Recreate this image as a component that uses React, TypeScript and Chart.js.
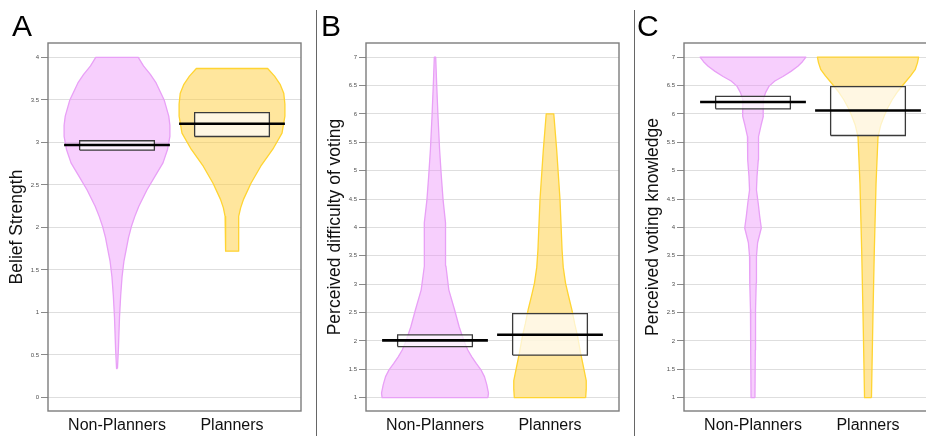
import React, { useEffect, useRef } from 'react';
import { Chart, registerables } from 'chart.js';

Chart.register(...registerables);

const FONT = "'Liberation Sans', Arial, Helvetica, sans-serif";

const categories = ['Non-Planners', 'Planners'];

// Panel A: Belief Strength
const beliefTicks = [0, 0.5, 1, 1.5, 2, 2.5, 3, 3.5, 4];
const beliefNonLevels = [0.34, 0.56, 0.95, 1.2, 1.42, 1.6, 1.74, 1.88, 2.01, 2.13, 2.25, 2.44, 2.6, 2.76, 2.92, 3.07, 3.2, 3.31, 3.5, 3.7, 3.8, 3.9, 4.0];
const beliefNonWidths = [0.004, 0.012, 0.022, 0.032, 0.044, 0.06, 0.08, 0.1, 0.125, 0.155, 0.19, 0.26, 0.33, 0.4, 0.44, 0.46, 0.46, 0.45, 0.41, 0.34, 0.29, 0.23, 0.185];
const beliefPlanLevels = [1.72, 2.0, 2.13, 2.23, 2.33, 2.52, 2.72, 2.92, 3.11, 3.31, 3.45, 3.58, 3.68, 3.78, 3.87];
const beliefPlanWidths = [0.055, 0.056, 0.06, 0.075, 0.1, 0.165, 0.25, 0.355, 0.435, 0.46, 0.46, 0.45, 0.42, 0.37, 0.31];
const beliefCiLow = [2.91, 3.07];
const beliefCiHigh = [3.02, 3.35];
const beliefMeans = [2.97, 3.22];

// Panel B: Perceived difficulty of voting
const scaleTicks = [1, 1.5, 2, 2.5, 3, 3.5, 4, 4.5, 5, 5.5, 6, 6.5, 7];
const diffNonLevels = [1.0, 1.08, 1.23, 1.37, 1.49, 1.6, 1.72, 1.84, 1.96, 2.1, 2.25, 2.4, 2.55, 2.9, 3.32, 3.73, 4.08, 4.49, 4.9, 5.37, 5.96, 6.55, 7.0];
const diffNonWidths = [0.46, 0.465, 0.45, 0.43, 0.4, 0.36, 0.32, 0.285, 0.26, 0.235, 0.21, 0.19, 0.17, 0.12, 0.095, 0.09, 0.093, 0.07, 0.055, 0.04, 0.026, 0.014, 0.006];
const diffPlanLevels = [1.0, 1.15, 1.3, 1.55, 1.8, 2.08, 2.3, 2.55, 2.8, 3.02, 3.3, 3.6, 4.49, 5.37, 6.0];
const diffPlanWidths = [0.31, 0.315, 0.315, 0.29, 0.265, 0.24, 0.215, 0.19, 0.16, 0.135, 0.115, 0.105, 0.087, 0.058, 0.033];
const diffCiLow = [1.9, 1.75];
const diffCiHigh = [2.105, 2.48];
const diffMeans = [2.01, 2.11];

// Panel C: Perceived voting knowledge
const knowNonLevels = [1.0, 1.84, 2.55, 3.02, 3.49, 3.73, 3.99, 4.2, 4.43, 4.66, 4.9, 5.19, 5.6, 5.8, 5.96, 6.1, 6.25, 6.38, 6.49, 6.58, 6.66, 6.75, 6.84, 6.92, 7.0];
const knowNonWidths = [0.017, 0.02, 0.022, 0.028, 0.03, 0.04, 0.072, 0.058, 0.045, 0.03, 0.035, 0.046, 0.048, 0.07, 0.09, 0.09, 0.087, 0.11, 0.14, 0.19, 0.26, 0.33, 0.39, 0.43, 0.46];
const knowPlanLevels = [1.0, 2.43, 3.6, 4.78, 5.6, 5.8, 5.96, 6.1, 6.25, 6.4, 6.55, 6.67, 6.78, 6.9, 7.0];
const knowPlanWidths = [0.03, 0.043, 0.055, 0.07, 0.087, 0.11, 0.14, 0.17, 0.21, 0.26, 0.32, 0.37, 0.41, 0.43, 0.44];
const knowCiLow = [6.09, 5.62];
const knowCiHigh = [6.31, 6.48];
const knowMeans = [6.21, 6.06];

const PINK_FILL = 'rgba(236, 140, 250, 0.42)';
const PINK_LINE = 'rgba(232, 160, 246, 1)';
const GOLD_FILL = 'rgba(255, 205, 60, 0.5)';
const GOLD_LINE = 'rgba(255, 212, 50, 1)';

type PanelSpec = {
  title: string;
  ticks: number[];
  min: number;
  max: number;
  levels: number[][];
  widths: number[][];
  ciLow: number[];
  ciHigh: number[];
  means: number[];
};

const panels: PanelSpec[] = [
  {
    title: 'Belief Strength',
    ticks: beliefTicks,
    min: -0.16,
    max: 4.17,
    levels: [beliefNonLevels, beliefPlanLevels],
    widths: [beliefNonWidths, beliefPlanWidths],
    ciLow: beliefCiLow,
    ciHigh: beliefCiHigh,
    means: beliefMeans,
  },
  {
    title: 'Perceived difficulty of voting',
    ticks: scaleTicks,
    min: 0.765,
    max: 7.25,
    levels: [diffNonLevels, diffPlanLevels],
    widths: [diffNonWidths, diffPlanWidths],
    ciLow: diffCiLow,
    ciHigh: diffCiHigh,
    means: diffMeans,
  },
  {
    title: 'Perceived voting knowledge',
    ticks: scaleTicks,
    min: 0.765,
    max: 7.25,
    levels: [knowNonLevels, knowPlanLevels],
    widths: [knowNonWidths, knowPlanWidths],
    ciLow: knowCiLow,
    ciHigh: knowCiHigh,
    means: knowMeans,
  },
];

const BOX_HALF = 0.325;
const MEAN_HALF = 0.46;

function violinPoints(center: number, levels: number[], widths: number[]) {
  const pts: { x: number; y: number }[] = [];
  for (let i = 0; i < levels.length; i++) pts.push({ x: center + widths[i], y: levels[i] });
  for (let i = levels.length - 1; i >= 0; i--) pts.push({ x: center - widths[i], y: levels[i] });
  pts.push({ x: center + widths[0], y: levels[0] });
  return pts;
}

const framePlugin = {
  id: 'panelFrame',
  afterDatasetsDraw(chart: any) {
    const { ctx, chartArea: a } = chart;
    ctx.save();
    ctx.strokeStyle = '#7d7d7d';
    ctx.lineWidth = 1.4;
    ctx.strokeRect(a.left, a.top, a.right - a.left, a.bottom - a.top);
    ctx.restore();
  },
};

function Panel({ spec, left }: { spec: PanelSpec; left: number }) {
  const ref = useRef<HTMLCanvasElement | null>(null);
  useEffect(() => {
    if (!ref.current) return;
    const datasets: any[] = [];
    categories.forEach((_, i) => {
      const c = i + 1;
      datasets.push({
        label: categories[i] + ' violin',
        data: violinPoints(c, spec.levels[i], spec.widths[i]),
        fill: 'shape',
        backgroundColor: i === 0 ? PINK_FILL : GOLD_FILL,
        borderColor: i === 0 ? PINK_LINE : GOLD_LINE,
        borderWidth: 1.3,
        borderJoinStyle: 'round',
        pointRadius: 0,
        tension: 0,
        order: 3,
      });
      datasets.push({
        label: categories[i] + ' CI',
        data: [
          { x: c - BOX_HALF, y: spec.ciLow[i] },
          { x: c + BOX_HALF, y: spec.ciLow[i] },
          { x: c + BOX_HALF, y: spec.ciHigh[i] },
          { x: c - BOX_HALF, y: spec.ciHigh[i] },
          { x: c - BOX_HALF, y: spec.ciLow[i] },
        ],
        fill: 'shape',
        backgroundColor: 'rgba(255,255,255,0.72)',
        borderColor: '#3a3a3a',
        borderWidth: 1.3,
        pointRadius: 0,
        tension: 0,
        order: 2,
      });
      datasets.push({
        label: categories[i] + ' mean',
        data: [
          { x: c - MEAN_HALF, y: spec.means[i] },
          { x: c + MEAN_HALF, y: spec.means[i] },
        ],
        fill: false,
        borderColor: '#000',
        borderWidth: 2.6,
        pointRadius: 0,
        tension: 0,
        order: 1,
      });
    });

    const chart = new Chart(ref.current, {
      type: 'line',
      data: { datasets },
      plugins: [framePlugin],
      options: {
        responsive: false,
        animation: false,
        devicePixelRatio: 1,
        layout: { padding: { left: 0, right: 16, top: 43, bottom: 0 } },
        plugins: { legend: { display: false }, tooltip: { enabled: false } },
        scales: {
          x: {
            type: 'linear',
            min: 0.4,
            max: 2.6,
            grid: { display: false, drawTicks: false },
            border: { display: false },
            afterBuildTicks: (s: any) => {
              s.ticks = categories.map((_, i) => ({ value: i + 1 }));
            },
            afterFit: (s: any) => {
              s.height = 25;
            },
            ticks: {
              autoSkip: false,
              maxRotation: 0,
              padding: 5,
              color: '#111',
              font: { family: FONT, size: 16 },
              callback: (v: any) => categories[Math.round(Number(v)) - 1],
            },
          },
          y: {
            type: 'linear',
            min: spec.min,
            max: spec.max,
            afterBuildTicks: (s: any) => {
              s.ticks = spec.ticks.map((v) => ({ value: v }));
            },
            afterFit: (s: any) => {
              s.width = 48;
            },
            grid: { color: '#dedede', lineWidth: 1, drawTicks: true, tickLength: 7, tickColor: '#8a8a8a' },
            border: { display: false },
            ticks: {
              autoSkip: false,
              padding: 2,
              color: '#4d4d4d',
              font: { family: FONT, size: 6 },
              callback: (v: any) => String(v),
            },
            title: {
              display: true,
              text: spec.title,
              color: '#111',
              font: { family: FONT, size: 17.5 },
              padding: { top: 7, bottom: 0 },
            },
          },
        },
      } as any,
    });
    return () => chart.destroy();
  }, [spec]);
  return (
    <canvas
      ref={ref}
      width={317}
      height={436}
      style={{ position: 'absolute', left, top: 0, width: 317, height: 436 }}
    />
  );
}

const letterStyle: React.CSSProperties = {
  position: 'absolute',
  top: 11,
  fontFamily: FONT,
  fontSize: 30,
  lineHeight: '30px',
  color: '#000',
};

export default function App() {
  return (
    <div
      style={{
        position: 'fixed',
        left: 0,
        top: 0,
        width: 926,
        height: 436,
        overflow: 'hidden',
        background: '#fff',
      }}
    >
      <Panel spec={panels[0]} left={0} />
      <Panel spec={panels[1]} left={318} />
      <Panel spec={panels[2]} left={636} />
      <div style={{ position: 'absolute', left: 316, top: 10, width: 1, height: 426, background: '#666' }} />
      <div style={{ position: 'absolute', left: 634, top: 10, width: 1, height: 426, background: '#666' }} />
      <div style={{ ...letterStyle, left: 12 }}>A</div>
      <div style={{ ...letterStyle, left: 321 }}>B</div>
      <div style={{ ...letterStyle, left: 637 }}>C</div>
    </div>
  );
}
